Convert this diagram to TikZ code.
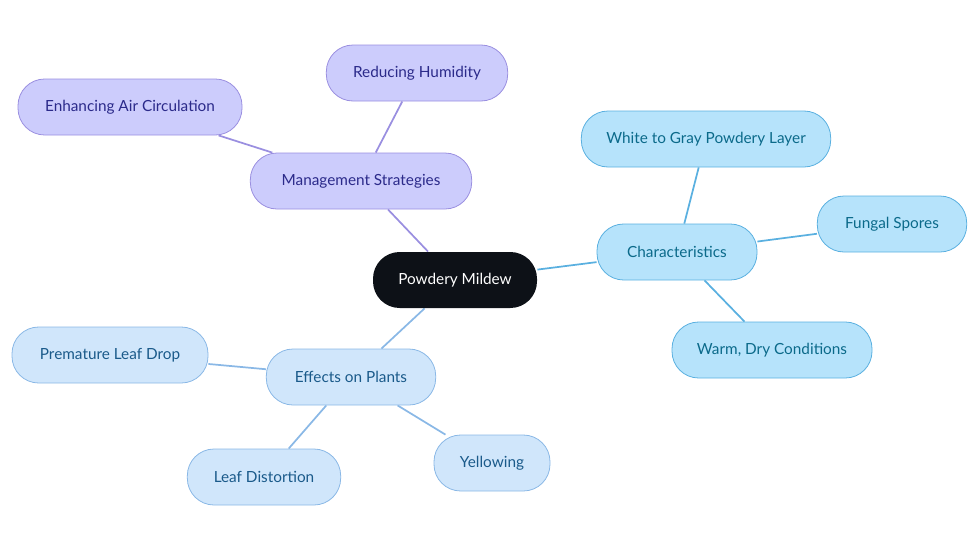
\documentclass[tikz,border=0pt]{standalone}
\usepackage{fontspec}
\setmainfont{Lato}
\usetikzlibrary{backgrounds}
\definecolor{pfill}{HTML}{CCCCFC}\definecolor{pdraw}{HTML}{9A8FE0}\definecolor{ptext}{HTML}{2B2A8A}
\definecolor{cfill}{HTML}{B6E3FB}\definecolor{cdraw}{HTML}{5AB0E0}\definecolor{ctext}{HTML}{0B6A8A}
\definecolor{efill}{HTML}{D0E6FB}\definecolor{edraw}{HTML}{8AB8E6}\definecolor{etext}{HTML}{1A5A8A}
\definecolor{root}{HTML}{0D1117}
\tikzset{
 box/.style={rounded corners=20pt,minimum height=42pt,font=\fontsize{11.5}{13}\selectfont,line width=0.6pt},
 pbox/.style={box,fill=pfill,draw=pdraw,text=ptext},
 cbox/.style={box,fill=cfill,draw=cdraw,text=ctext},
 ebox/.style={box,fill=efill,draw=edraw,text=etext},
 pl/.style={draw=pdraw,line width=1.3pt},
 cl/.style={draw=cdraw,line width=1.3pt},
 el/.style={draw=edraw,line width=1.3pt}}
\begin{document}
\begin{tikzpicture}[x=0.75pt,y=-0.75pt]
\useasboundingbox (0,0) rectangle (980,553);
\node[box,fill=root,text=white,minimum width=123pt] (r) at (455,280) {Powdery Mildew};
\node[pbox,minimum width=166pt] (m) at (361,181) {Management Strategies};
\node[pbox,minimum width=136pt] (m1) at (417,73) {Reducing Humidity};
\node[pbox,minimum width=168pt] (m2) at (130,107) {Enhancing Air Circulation};
\node[cbox,minimum width=120pt] (c) at (677,252) {Characteristics};
\node[cbox,minimum width=187pt] (c1) at (706,139) {White to Gray Powdery Layer};
\node[cbox,minimum width=112pt] (c2) at (892,224) {Fungal Spores};
\node[cbox,minimum width=150pt] (c3) at (772,350) {Warm, Dry Conditions};
\node[ebox,minimum width=127pt] (e) at (351,377) {Effects on Plants};
\node[ebox,minimum width=147pt] (e1) at (110,355) {Premature Leaf Drop};
\node[ebox,minimum width=115pt] (e2) at (264,477) {Leaf Distortion};
\node[ebox,minimum width=87pt] (e3) at (492,463) {Yellowing};
\begin{pgfonlayer}{background}
\draw[pl] (r)--(m) (m)--(m1) (m)--(m2);
\draw[cl] (r)--(c) (c)--(c1) (c)--(c2) (c)--(c3);
\draw[el] (r)--(e) (e)--(e1) (e)--(e2) (e)--(e3);
\end{pgfonlayer}
\end{tikzpicture}
\end{document}
